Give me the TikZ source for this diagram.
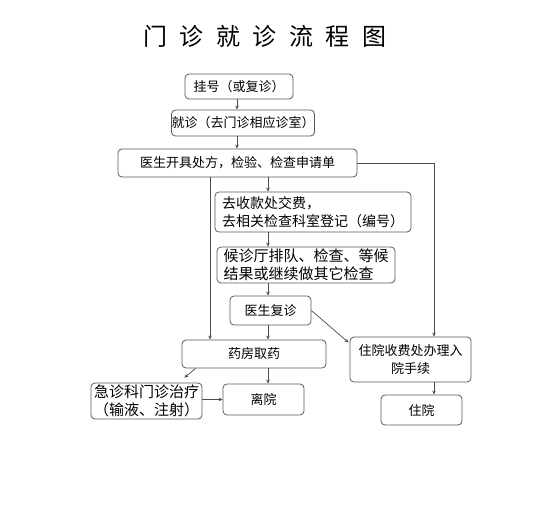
\documentclass[tikz,border=0pt]{standalone}
\usepackage{fontspec}
\setmainfont{Noto Sans CJK SC}
\usetikzlibrary{arrows.meta,calc}
\tikzset{
  box/.style={draw=black!65, line width=0.8pt, rounded corners=4pt, inner sep=0pt, fill=white,
     font=\fontsize{13}{18}\selectfont},
  arr/.style={draw=black!70, line width=0.7pt, -{Stealth[length=4pt,width=3.5pt]}},
  ln/.style={draw=black!70, line width=0.7pt},
}
\newcommand{\tg}{\hspace{12.5pt}}
\begin{document}
\begin{tikzpicture}[x=1pt,y=-1pt]
\useasboundingbox[fill=white] (0,0) rectangle (546,524);
\node[font=\fontsize{24}{28}\selectfont] (title) at (265,36) {门\tg 诊\tg 就\tg 诊\tg 流\tg 程\tg 图};
\coordinate (colx) at (268,0);
\coordinate (lcol) at (210,0);
\coordinate (rcol) at (434,0);
\node[box, minimum width=108pt, minimum height=25pt] (n1) at (239,86.5) {挂号（或复诊）};
\node[box, minimum width=138pt, minimum height=26pt] (n2) at (243,123) {就诊（去门诊相应诊室）};
\node[box, minimum width=239pt, minimum height=28pt] (n3) at (237.5,163) {医生开具处方，检验、检查申请单};
\node[box, minimum width=196pt, minimum height=40pt, align=left, font=\fontsize{14}{18}\selectfont] (n4) at (313,212) {去收款处交费，\\去相关检查科室登记（编号）};
\node[box, minimum width=178pt, minimum height=36pt, align=left, font=\fontsize{15}{18}\selectfont] (n5) at (306,265) {候诊厅排队、检查、等候\\结果或继续做其它检查};
\node[box, minimum width=81pt, minimum height=29pt] (n6) at (270.5,310.5) {医生复诊};
\node[box, minimum width=144pt, minimum height=28pt] (n7) at (254,354) {药房取药};
\node[box, minimum width=121pt, minimum height=45pt, align=center] (n8) at (410.5,359.5) {住院收费处办理入\\院手续};
\node[box, minimum width=111pt, minimum height=36pt, align=center, font=\fontsize{15}{18}\selectfont] (n9) at (146.5,401) {急诊科门诊治疗\\（输液、注射）};
\node[box, minimum width=81pt, minimum height=31pt] (n10) at (263.5,399.5) {离院};
\node[box, minimum width=81pt, minimum height=30pt] (n11) at (421.5,410) {住院};

\draw[arr] (n1.south -| 237,0) -- (n2.north -| 237,0);
\draw[arr] (n2.south -| 237,0) -- (n3.north -| 237,0);
\draw[arr] (n3.south -| colx) -- (n4.north -| colx);
\draw[arr] (n4.south -| colx) -- (n5.north -| colx);
\draw[arr] (n5.south -| colx) -- (n6.north -| colx);
\draw[arr] (n6.south -| colx) -- (n7.north -| colx);
\draw[arr] (n7.south -| colx) -- (n10.north -| colx);
\draw[arr] (n3.south -| lcol) -- (n7.north -| lcol);
\draw[arr] (n3.east) -- (n3.east -| rcol) -- (n8.north -| rcol);
\draw[arr] (n6.east) -- ($(n8.north west)+(-1,6)$);
\draw[arr] ($(n7.south west)+(14,0)$) -- ($(n9.north east)+(-18,-5)$);
\draw[arr] (n9.east |- n10) -- (n10.west);
\draw[arr] (n8.south -| rcol) -- (n11.north -| rcol);
\end{tikzpicture}
\end{document}
